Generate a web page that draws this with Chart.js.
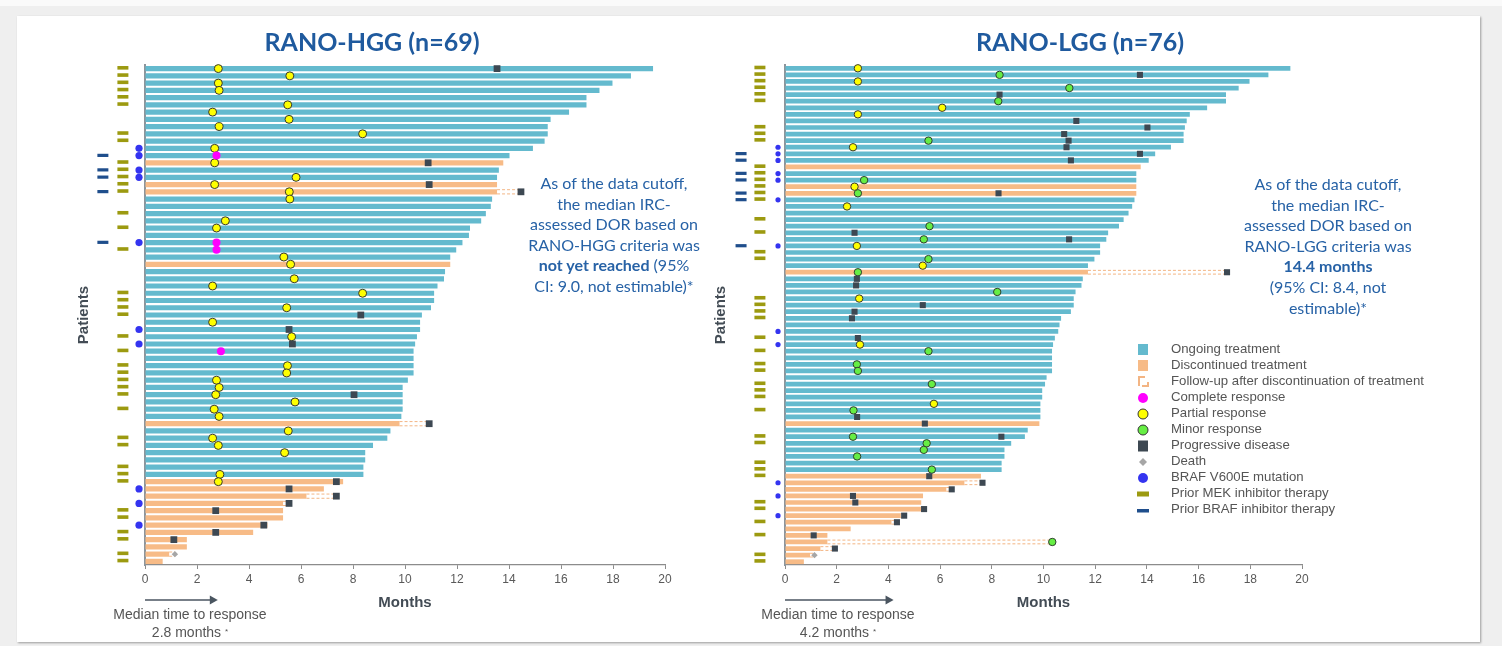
<!DOCTYPE html>
<html lang="en">
<head>
<meta charset="utf-8">
<title>RANO-HGG / RANO-LGG swimmer plots</title>
<script src="https://cdn.jsdelivr.net/npm/chart.js@4.4.1/dist/chart.umd.min.js"></script>
<style>
  html, body { margin: 0; padding: 0; }
  body { width: 1502px; height: 646px; position: relative; overflow: hidden; background: #fafafa; font-family: "Liberation Sans", Arial, sans-serif; }
  #frame { position: absolute; left: 0; top: 6px; width: 1502px; height: 640px; background: #efefef; }
  #card { position: absolute; left: 17px; top: 16px; width: 1463px; height: 626px; background: #fff; box-shadow: 1px 1px 2px rgba(0,0,0,.35); }
  canvas { position: absolute; top: 0; }
  #hgg { left: 0; }
  #lgg { left: 680px; }
  .title { position: absolute; top: 26px; font: 700 25px Lato, sans-serif; color: #1f5a9e; transform: translateX(-50%); white-space: nowrap; }
  .note { position: absolute; font: 16px/20.6px Lato, sans-serif; color: #2762a6; text-align: center; transform: translateX(-50%); white-space: nowrap; }
  .ttr { position: absolute; top: 606px; font: 14px/17px "Liberation Sans", Arial, sans-serif; color: #555; text-align: center; transform: translateX(-50%); white-space: nowrap; }
  .ttr sup { font-size: 8px; vertical-align: 3px; }
  #legend { position: absolute; left: 1130px; top: 341px; font: 13.2px "Liberation Sans", Arial, sans-serif; color: #555; }
  #legend div { height: 16px; line-height: 16px; display: flex; align-items: center; }
  #legend svg { width: 26px; height: 16px; margin-right: 15px; flex: none; }
</style>
</head>
<body>
<div id="frame"></div>
<div id="card"></div>

<canvas id="hgg" width="751" height="646"></canvas>
<canvas id="lgg" width="822" height="646"></canvas>

<div class="title" style="left:372px">RANO-HGG (n=69)</div>
<div class="title" style="left:1080px">RANO-LGG (n=76)</div>

<div class="note" style="left:614px; top:173px">As of the data cutoff,<br>the median IRC-<br>assessed DOR based on<br>RANO-HGG criteria was<br><b>not yet reached</b> (95%<br>CI: 9.0, not estimable)*</div>
<div class="note" style="left:1328px; top:174px">As of the data cutoff,<br>the median IRC-<br>assessed DOR based on<br>RANO-LGG criteria was<br><b>14.4 months</b><br>(95% CI: 8.4, not<br>estimable)*</div>

<div class="ttr" style="left:190px">Median time to response<br>2.8 months <sup>*</sup></div>
<div class="ttr" style="left:838px">Median time to response<br>4.2 months <sup>*</sup></div>

<div id="legend">
  <div><svg viewBox="0 0 26 16"><rect x="8" y="3" width="10" height="11" fill="#64bace"/></svg>Ongoing treatment</div>
  <div><svg viewBox="0 0 26 16"><rect x="8" y="3" width="10" height="11" fill="#f7bb87"/></svg>Discontinued treatment</div>
  <div><svg viewBox="0 0 26 16"><path d="M9 13V4h6M12 13h6V9" fill="none" stroke="#f3b584" stroke-width="2"/></svg>Follow-up after discontinuation of treatment</div>
  <div><svg viewBox="0 0 26 16"><circle cx="13" cy="9" r="5" fill="#ff00ff"/></svg>Complete response</div>
  <div><svg viewBox="0 0 26 16"><circle cx="13" cy="9" r="5" fill="#ffff00" stroke="#333" stroke-width="1"/></svg>Partial response</div>
  <div><svg viewBox="0 0 26 16"><circle cx="13" cy="9" r="5" fill="#66ee44" stroke="#333" stroke-width="1"/></svg>Minor response</div>
  <div><svg viewBox="0 0 26 16"><rect x="8" y="3.5" width="10" height="11" fill="#3d4852"/></svg>Progressive disease</div>
  <div><svg viewBox="0 0 26 16"><path d="M13 5l4 4-4 4-4-4z" fill="#a6a6a6"/></svg>Death</div>
  <div><svg viewBox="0 0 26 16"><circle cx="13" cy="9" r="5" fill="#3434f0"/></svg>BRAF V600E mutation</div>
  <div><svg viewBox="0 0 26 16"><rect x="7" y="6.5" width="12" height="5" fill="#9c9a10"/></svg>Prior MEK inhibitor therapy</div>
  <div><svg viewBox="0 0 26 16"><rect x="7" y="8" width="12" height="3.5" fill="#1f4e8c"/></svg>Prior BRAF inhibitor therapy</div>
</div>

<script>
// ---- RANO-HGG (69 patients, top to bottom) ----
const HGG_MONTHS = [
  19.54, 18.69, 17.98, 17.48, 16.98, 16.98, 16.31, 15.6, 15.49, 15.49,
  15.37, 14.92, 14.02, 13.78, 13.61, 13.54, 13.54, 13.54, 13.35, 13.3,
  13.11, 12.93, 12.5, 12.46, 12.21, 11.97, 11.74, 11.74, 11.54, 11.5,
  11.25, 11.12, 11.12, 11.0, 10.65, 10.58, 10.58, 10.46, 10.39, 10.33,
  10.33, 10.33, 10.33, 10.11, 9.91, 9.91, 9.91, 9.91, 9.86, 9.79,
  9.44, 9.32, 8.77, 8.47, 8.47, 8.4, 8.4, 7.62, 6.88, 6.21,
  5.31, 5.31, 5.31, 4.71, 4.16, 1.61, 1.61, 0.93, 0.68
];
const HGG_STOPPED = [14, 17, 18, 28, 50, 58, 59, 60, 61, 62, 63, 64, 65, 66, 67, 68, 69];
const HGG_FOLLOWUP = [[18, 14.46], [50, 10.93], [60, 7.36], [61, 5.54], [68, 1.15]];
const HGG_CR = [[13, 2.75], [25, 2.75], [26, 2.75], [40, 2.92]];
const HGG_PR = [[1, 2.82], [2, 5.57], [3, 2.82], [4, 2.85], [6, 5.49], [7, 2.6], [8, 5.54], [9, 2.85], [10, 8.37],
  [12, 2.68], [14, 2.68], [16, 5.81], [17, 2.68], [18, 5.55], [19, 5.57], [22, 3.09], [23, 2.75], [27, 5.34],
  [28, 5.6], [30, 5.74], [31, 2.6], [32, 8.37], [34, 5.45], [36, 2.6], [38, 5.64], [42, 5.48], [43, 5.45],
  [44, 2.75], [45, 2.85], [46, 2.72], [47, 5.77], [48, 2.66], [49, 2.85], [51, 5.51], [52, 2.6], [53, 2.82],
  [54, 5.37], [57, 2.88], [58, 2.82]];
const HGG_MR = [];
const HGG_PD = [[1, 13.54], [14, 10.89], [17, 10.93], [18, 14.46], [35, 8.3], [37, 5.54], [39, 5.67], [46, 8.04],
  [50, 10.93], [58, 7.36], [59, 5.54], [60, 7.36], [61, 5.54], [62, 2.72], [64, 4.57], [65, 2.72], [66, 1.11]];
const HGG_DEATH = [[68, 1.15]];
const HGG_BRAF_V600E = [12, 13, 15, 16, 25, 37, 39, 59, 61, 64];
const HGG_PRIOR_MEK = [1, 2, 3, 4, 5, 6, 10, 11, 14, 15, 16, 17, 18, 21, 23, 26, 32, 33, 34, 35, 38, 40, 42, 43,
  44, 45, 46, 48, 52, 53, 56, 57, 58, 62, 63, 65, 66, 68, 69];
const HGG_PRIOR_BRAF = [13, 15, 16, 18, 25];
const HGG_MEDIAN_TTR = 2.8;

// ---- RANO-LGG (76 patients, top to bottom) ----
const LGG_MONTHS = [
  19.55, 18.7, 17.97, 17.55, 17.06, 17.06, 16.33, 15.66, 15.54, 15.47,
  15.42, 15.42, 14.93, 14.32, 14.07, 13.76, 13.59, 13.59, 13.59, 13.59,
  13.52, 13.43, 13.29, 13.1, 12.92, 12.5, 12.43, 12.19, 12.19, 11.97,
  11.72, 11.72, 11.52, 11.47, 11.24, 11.17, 11.17, 11.06, 10.68, 10.62,
  10.57, 10.44, 10.37, 10.33, 10.33, 10.33, 10.33, 10.12, 10.06, 9.95,
  9.95, 9.88, 9.88, 9.88, 9.84, 9.39, 9.28, 8.75, 8.49, 8.49,
  8.38, 8.38, 7.58, 6.94, 6.24, 5.34, 5.27, 5.27, 4.48, 4.12,
  2.54, 1.64, 1.64, 1.37, 0.97, 0.73
];
const LGG_STOPPED = [16, 19, 20, 32, 55, 63, 64, 65, 66, 67, 68, 69, 70, 71, 72, 73, 74, 75, 76];
const LGG_FOLLOWUP = [[32, 17.1], [64, 7.64], [65, 6.45], [69, 4.61], [70, 4.33], [73, 10.34], [74, 1.93], [75, 1.14]];
const LGG_CR = [];
const LGG_PR = [[1, 2.82], [3, 2.82], [7, 6.08], [8, 2.82], [13, 2.63], [19, 2.69], [22, 2.4], [28, 2.78],
  [31, 5.33], [36, 2.87], [43, 2.9], [52, 5.76]];
const LGG_MR = [[2, 8.3], [4, 11.0], [6, 8.25], [12, 5.55], [18, 3.06], [20, 2.82], [25, 5.59], [27, 5.37],
  [30, 5.55], [32, 2.82], [35, 8.21], [44, 5.55], [46, 2.78], [47, 2.82], [49, 5.68], [53, 2.65], [57, 2.63],
  [58, 5.48], [59, 5.37], [60, 2.79], [62, 5.68], [73, 10.34]];
const LGG_PD = [[2, 13.73], [5, 8.3], [9, 11.27], [10, 14.02], [11, 10.8], [12, 10.97], [13, 10.89], [14, 13.73],
  [15, 11.06], [20, 8.26], [26, 2.69], [27, 10.99], [32, 17.1], [33, 2.78], [34, 2.75], [37, 5.33], [38, 2.69],
  [39, 2.59], [42, 2.82], [54, 2.79], [55, 5.41], [57, 8.37], [63, 5.58], [64, 7.64], [65, 6.45], [66, 2.63],
  [67, 2.72], [68, 5.38], [69, 4.61], [70, 4.33], [72, 1.11], [74, 1.93]];
const LGG_DEATH = [[75, 1.14]];
const LGG_BRAF_V600E = [13, 14, 15, 17, 18, 21, 28, 41, 43, 64, 66, 69];
const LGG_PRIOR_MEK = [1, 2, 3, 4, 5, 6, 10, 11, 12, 16, 17, 18, 19, 20, 21, 24, 26, 29, 30, 36, 37, 38, 39, 42,
  44, 46, 47, 49, 50, 51, 53, 57, 58, 61, 62, 63, 67, 68, 70, 72, 75, 76];
const LGG_PRIOR_BRAF = [14, 15, 17, 18, 20, 21, 28];
const LGG_MEDIAN_TTR = 4.2;

const BAR_PCT = 0.72;
const TEAL = '#64bace';
const ORANGE = '#f7bb87';

// follow-up dashes, patient flags left of the axis, median-time-to-response arrow
function swimExtras(d, look) {
  return {
    id: 'swimExtras',
    beforeDatasetsDraw(chart) {
      const { ctx, scales: { x, y } } = chart;
      const half = (y.getPixelForValue(1) - y.getPixelForValue(0)) * BAR_PCT / 2 - 0.5;
      ctx.save();
      ctx.strokeStyle = '#f3b584';
      ctx.lineWidth = 1;
      ctx.setLineDash([3, 2]);
      d.followUp.forEach(([row, to]) => {
        const yc = y.getPixelForValue(row - 1);
        const x0 = x.getPixelForValue(d.months[row - 1]);
        const x1 = x.getPixelForValue(to);
        ctx.beginPath();
        ctx.moveTo(x0, yc - half); ctx.lineTo(x1, yc - half);
        ctx.moveTo(x0, yc + half); ctx.lineTo(x1, yc + half);
        ctx.stroke();
      });
      ctx.restore();
    },
    afterDatasetsDraw(chart) {
      // flags sit outside the plot area, so points would be culled: draw them here
      const { ctx, scales: { x, y } } = chart;
      ctx.save();
      ctx.fillStyle = '#3434f0';
      const bx = x.getPixelForValue(look.brafX);
      d.braf.forEach(r => {
        ctx.beginPath();
        ctx.arc(bx, y.getPixelForValue(r - 1), look.braf, 0, Math.PI * 2);
        ctx.fill();
      });
      ctx.fillStyle = '#9c9a10';
      const mx = x.getPixelForValue(look.mekX);
      d.mek.forEach(r => ctx.fillRect(mx - 5.5, y.getPixelForValue(r - 1) - 2.6, 11, 3.6));
      ctx.fillStyle = '#1f4e8c';
      const px = x.getPixelForValue(look.priorX);
      d.priorBraf.forEach(r => ctx.fillRect(px - 5.5, y.getPixelForValue(r - 1) - 1.8, 11, 3.2));
      ctx.restore();
    },
    afterDraw(chart) {
      const { ctx, chartArea, scales: { x } } = chart;
      const yy = chartArea.bottom + 35;
      const x0 = x.getPixelForValue(0);
      const x1 = x.getPixelForValue(d.median);
      ctx.save();
      ctx.strokeStyle = ctx.fillStyle = '#4a5560';
      ctx.lineWidth = 1.6;
      ctx.beginPath(); ctx.moveTo(x0, yy); ctx.lineTo(x1 - 7, yy); ctx.stroke();
      ctx.beginPath(); ctx.moveTo(x1, yy); ctx.lineTo(x1 - 8, yy - 4.5); ctx.lineTo(x1 - 8, yy + 4.5); ctx.closePath(); ctx.fill();
      ctx.restore();
    }
  };
}

function swimmer(id, d, look) {
  const stopped = new Set(d.stopped);
  const labels = d.months.map((_, i) => String(i + 1));
  const pts = arr => arr.map(([r, m]) => ({ x: m, y: String(r) }));
  const mark = (label, data, style) => Object.assign({ type: 'scatter', label, data, indexAxis: 'y', clip: false, order: 1 }, style);

  const datasets = [
    mark('Progressive disease', pts(d.pd), { pointStyle: 'rect', radius: look.pd, backgroundColor: '#3d4852', borderWidth: 0 }),
    mark('Death', pts(d.death), { pointStyle: 'rectRot', radius: 3.2, backgroundColor: '#a6a6a6', borderWidth: 0 }),
    mark('Complete response', pts(d.cr), { pointStyle: 'circle', radius: look.dot, backgroundColor: '#ff00ff', borderWidth: 0 }),
    mark('Partial response', pts(d.pr), { pointStyle: 'circle', radius: look.dot, backgroundColor: '#ffff00', borderColor: '#3a3a30', borderWidth: 1 }),
    mark('Minor response', pts(d.mr), { pointStyle: 'circle', radius: look.dot, backgroundColor: '#66ee44', borderColor: '#2f3f2f', borderWidth: 1 }),
    {
      type: 'bar', label: 'Ongoing treatment', order: 10, grouped: false,
      data: d.months.map((m, i) => stopped.has(i + 1) ? null : [0, m]),
      backgroundColor: TEAL, barPercentage: BAR_PCT, categoryPercentage: 1
    },
    {
      type: 'bar', label: 'Discontinued treatment', order: 10, grouped: false,
      data: d.months.map((m, i) => stopped.has(i + 1) ? [0, m] : null),
      backgroundColor: ORANGE, barPercentage: BAR_PCT, categoryPercentage: 1
    }
  ];

  return new Chart(document.getElementById(id), {
    type: 'bar',
    data: { labels, datasets },
    options: {
      responsive: false,
      animation: false,
      events: [],
      indexAxis: 'y',
      layout: { padding: look.padding },
      plugins: { legend: { display: false }, tooltip: { enabled: false } },
      scales: {
        x: {
          type: 'linear', min: 0, max: 20,
          ticks: { stepSize: 2, color: '#595959', padding: 3, font: { size: 12, family: 'Liberation Sans' } },
          grid: { drawOnChartArea: false, drawTicks: true, tickLength: 4, color: '#8c8c8c' },
          border: { color: '#8c8c8c', width: 1.2 },
          title: { display: true, text: 'Months', color: '#434c55', padding: { top: 4, bottom: 4 },
                   font: { size: 15, weight: 'bold', family: 'Liberation Sans' } }
        },
        y: {
          type: 'category', offset: true,
          ticks: { display: false },
          grid: { display: false, drawTicks: false },
          border: { color: '#8d959b', width: 2 },
          title: { display: true, text: 'Patients', color: '#434c55', padding: { top: 0, bottom: look.titleGap },
                   font: { size: 15, weight: 'bold', family: 'Liberation Sans' } }
        }
      }
    },
    plugins: [swimExtras(d, look)]
  });
}

swimmer('hgg', {
  months: HGG_MONTHS, stopped: HGG_STOPPED, followUp: HGG_FOLLOWUP, median: HGG_MEDIAN_TTR,
  cr: HGG_CR, pr: HGG_PR, mr: HGG_MR, pd: HGG_PD, death: HGG_DEATH,
  braf: HGG_BRAF_V600E, mek: HGG_PRIOR_MEK, priorBraf: HGG_PRIOR_BRAF
}, {
  padding: { left: 75, right: 86, top: 65, bottom: 30.6 }, titleGap: 52,
  dot: 4.0, pd: 4.8, braf: 3.6, brafX: -0.23, mekX: -0.85, priorX: -1.62
});

swimmer('lgg', {
  months: LGG_MONTHS, stopped: LGG_STOPPED, followUp: LGG_FOLLOWUP, median: LGG_MEDIAN_TTR,
  cr: LGG_CR, pr: LGG_PR, mr: LGG_MR, pd: LGG_PD, death: LGG_DEATH,
  braf: LGG_BRAF_V600E, mek: LGG_PRIOR_MEK, priorBraf: LGG_PRIOR_BRAF
}, {
  padding: { left: 32, right: 200, top: 65, bottom: 30.6 }, titleGap: 55,
  dot: 3.7, pd: 4.3, braf: 2.6, brafX: -0.27, mekX: -0.97, priorX: -1.7
});
</script>
</body>
</html>
